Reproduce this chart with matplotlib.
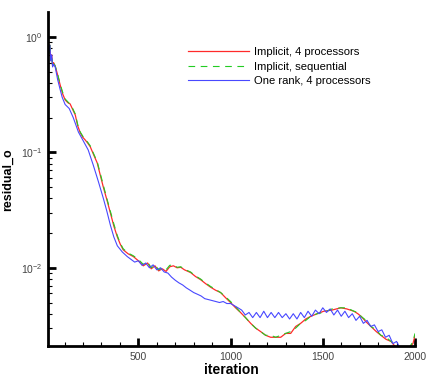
"""Residual history of the implicit solver vs. the one-rank variant."""

import matplotlib
matplotlib.use("Agg")
import matplotlib.pyplot as plt
from matplotlib.ticker import MultipleLocator, LogLocator

plt.rcParams["font.family"] = ["Liberation Sans", "DejaVu Sans"]

# Implicit, 4 processors
it_red = [10, 15, 20, 25, 30, 35, 40, 49, 62, 76, 90, 103, 117, 130, 144, 158,
          171, 185, 199, 212, 226, 239, 258, 277, 293, 310, 329, 348, 367, 386,
          402, 418, 445, 473, 500, 527, 550, 570, 590, 610, 630, 650, 670, 690,
          710, 730, 750, 783, 810, 837, 864, 891, 918, 946, 973, 1000, 1027,
          1054, 1081, 1109, 1136, 1163, 1190, 1217, 1245, 1272, 1299, 1326,
          1353, 1380, 1408, 1435, 1470, 1505, 1550, 1598, 1630, 1669, 1690,
          1707, 1735, 1761, 1790, 1815, 1843, 1870, 1890, 1908, 1935, 1962,
          1975, 1989, 2000]
res_red = [1.0, 0.72, 0.85, 0.63, 0.70, 0.56, 0.60, 0.56, 0.47, 0.384, 0.32,
           0.285, 0.27, 0.263, 0.235, 0.211, 0.17, 0.148, 0.135, 0.128, 0.12,
           0.112, 0.095, 0.081, 0.064, 0.050, 0.039, 0.030, 0.023, 0.0185,
           0.0160, 0.0143, 0.0132, 0.0125, 0.0115, 0.0104, 0.0110, 0.0098,
           0.0104, 0.0094, 0.0098, 0.0093, 0.0102, 0.0104, 0.0100, 0.0101,
           0.0096, 0.0091, 0.0084, 0.0079, 0.0073, 0.0068, 0.0064, 0.0061,
           0.0055, 0.0050, 0.0045, 0.0041, 0.0037, 0.0033, 0.0030, 0.0028,
           0.0026, 0.0025, 0.0025, 0.0025, 0.0027, 0.0027, 0.0031, 0.0033,
           0.0036, 0.0038, 0.0040, 0.0042, 0.0043, 0.0045, 0.0044, 0.0042,
           0.0040, 0.0038, 0.0034, 0.0031, 0.0028, 0.0026, 0.0024, 0.0023,
           0.0021, 0.0020, 0.0020, 0.0020, 0.0021, 0.0022, 0.0026]

# Implicit, sequential
it_green = it_red
res_green = [1.0, 0.72, 0.85, 0.63, 0.70, 0.56, 0.60, 0.56, 0.48, 0.39, 0.33,
             0.29, 0.275, 0.26, 0.24, 0.215, 0.175, 0.150, 0.138, 0.130, 0.122,
             0.114, 0.097, 0.083, 0.066, 0.052, 0.040, 0.031, 0.024, 0.0190,
             0.0163, 0.0146, 0.0134, 0.0127, 0.0118, 0.0107, 0.0112, 0.0100,
             0.0106, 0.0096, 0.0100, 0.0096, 0.0105, 0.0106, 0.0101, 0.0102,
             0.0097, 0.0092, 0.0085, 0.0080, 0.0074, 0.0069, 0.0065, 0.0061,
             0.0056, 0.0051, 0.0046, 0.0041, 0.0037, 0.0033, 0.0030, 0.0028,
             0.0026, 0.0026, 0.0025, 0.0026, 0.0027, 0.0028, 0.0030, 0.0033,
             0.0035, 0.0038, 0.0040, 0.0041, 0.0044, 0.0045, 0.0045, 0.0042,
             0.0041, 0.0038, 0.0035, 0.0031, 0.0029, 0.0026, 0.0025, 0.0023,
             0.0022, 0.0020, 0.0020, 0.0020, 0.0021, 0.0023, 0.0027]

# One rank, 4 processors
it_blue = [10, 15, 20, 25, 30, 35, 40, 49, 62, 76, 87, 103, 125, 147, 175,
           201, 228, 255, 283, 310, 329, 348, 367, 386, 413, 440, 480, 500,
           520, 540, 560, 580, 600, 620, 640, 660, 680, 700, 720, 740, 760,
           780, 800, 820, 840, 860, 880, 900, 920, 940, 960, 980, 1000, 1020,
           1040, 1060, 1080, 1100, 1120, 1140, 1160, 1180, 1200, 1220, 1240,
           1260, 1280, 1300, 1320, 1340, 1360, 1380, 1400, 1420, 1440, 1460,
           1480, 1500, 1520, 1540, 1560, 1580, 1600, 1620, 1640, 1660, 1680,
           1700, 1720, 1740, 1760, 1780, 1800, 1820, 1840, 1860, 1880, 1900,
           1920, 1940, 1960, 1980, 2000]
res_blue = [1.0, 0.75, 0.85, 0.62, 0.70, 0.55, 0.58, 0.55, 0.43, 0.35, 0.30,
            0.26, 0.24, 0.20, 0.15, 0.126, 0.105, 0.078, 0.056, 0.0400,
            0.031, 0.0235, 0.0185, 0.0155, 0.0137, 0.0125, 0.0112, 0.0115,
            0.0105, 0.0110, 0.0100, 0.0106, 0.0096, 0.0100, 0.0092, 0.0090,
            0.0083, 0.0078, 0.0074, 0.0071, 0.0067, 0.0064, 0.0061, 0.0059,
            0.0057, 0.0054, 0.0053, 0.0052, 0.0051, 0.0050, 0.0051, 0.0049,
            0.0049, 0.0047, 0.0045, 0.0043, 0.0039, 0.0041, 0.0037, 0.0041,
            0.0037, 0.0042, 0.0037, 0.0041, 0.0037, 0.0041, 0.0037, 0.0040,
            0.0036, 0.0040, 0.0036, 0.0041, 0.0037, 0.0042, 0.0038, 0.0043,
            0.0040, 0.0045, 0.0041, 0.0044, 0.0039, 0.0043, 0.0038, 0.0042,
            0.0037, 0.0040, 0.0035, 0.0038, 0.0033, 0.0035, 0.0031, 0.0032,
            0.0028, 0.0029, 0.0025, 0.0026, 0.0022, 0.0023, 0.0020, 0.0020,
            0.0020, 0.0020, 0.0020]


def main() -> None:
    fig = plt.figure(figsize=(4.30, 3.76), dpi=100)
    ax = fig.add_axes([0.1116, 0.0798, 0.8535, 0.887])

    ax.plot(it_red, res_red, color="#ff2a2a", lw=0.9,
            label="Implicit, 4 processors")
    ax.plot(it_green, res_green, color="#22cc22", lw=0.8, ls=(0, (6, 5)),
            label="Implicit, sequential")
    ax.plot(it_blue, res_blue, color="#4848ff", lw=0.8,
            label="One rank, 4 processors")

    ax.set_yscale("log")
    ax.set_xlim(10, 2000)
    ax.set_ylim(0.0021, 1.63)

    ax.xaxis.set_major_locator(MultipleLocator(500))
    ax.xaxis.set_minor_locator(MultipleLocator(100))
    ax.yaxis.set_major_locator(LogLocator(base=10))
    ax.yaxis.set_minor_locator(LogLocator(base=10, subs=range(2, 10)))

    for side in ("top", "right"):
        ax.spines[side].set_visible(False)
    for side in ("left", "bottom"):
        ax.spines[side].set_linewidth(2)

    ax.tick_params(which="major", direction="in", length=6, width=2,
                   labelsize=7.5, labelcolor="#444444", pad=4)
    ax.tick_params(which="minor", direction="in", length=3, width=0.8)

    ax.set_xlabel("iteration", fontsize=10, fontweight="bold", labelpad=1)
    ax.set_ylabel("residual_o", fontsize=9, fontweight="bold", labelpad=5)

    ax.legend(loc="upper left", bbox_to_anchor=(0.381, 0.897), frameon=False,
              fontsize=8.1, handlelength=5.4, handletextpad=0.45,
              labelspacing=0.42, borderaxespad=0, borderpad=0)

    fig.savefig("out.png", dpi=100)


if __name__ == "__main__":
    main()
